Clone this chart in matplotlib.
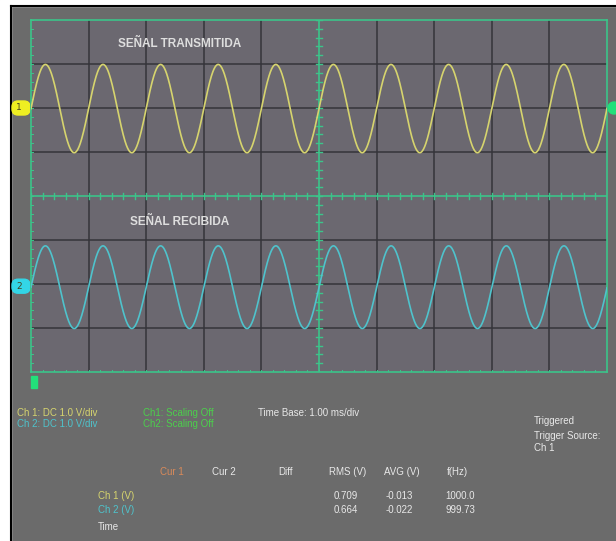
import matplotlib.pyplot as plt
import numpy as np
from matplotlib.patches import FancyBboxPatch, Rectangle, Circle

# scope settings
time_base_ms = 1.00          # ms/div
volts_per_div = [1.0, 1.0]
n_hdiv, n_vdiv = 10, 8
freq_hz = [1000.0, 999.73]
rms_v = [0.709, 0.664]
avg_v = [-0.013, -0.022]
offset_div = [2.0, -2.05]    # trace ground positions on the screen
channel_names = ['SEÑAL TRANSMITIDA', 'SEÑAL RECIBIDA']

W, H = 616, 541
BG = '#6b6b6b'
SCREEN = '#6b6870'
GREEN = '#3cc48a'
GRID = '#35343a'
YEL = '#d6d46e'
CYAN = '#4fc3cc'

fig = plt.figure(figsize=(W / 100, H / 100), dpi=100)
fig.patch.set_facecolor(BG)

# pixel-space overlay for frame, labels and panel text
bg = fig.add_axes([0, 0, 1, 1])
bg.set_xlim(0, W)
bg.set_ylim(H, 0)
bg.axis('off')
bg.add_patch(Rectangle((0, 0), W, 6, color='white'))
bg.add_patch(Rectangle((0, 0), 11, H, color='white'))
bg.plot([11, 11], [6, H], color='black', lw=1.5)
bg.plot([11, W], [6, 6], color='black', lw=1.5)

# screen geometry in pixels
x0, x1, y0, y1 = 31, 607, 20, 372
ax = fig.add_axes([x0 / W, 1 - y1 / H, (x1 - x0) / W, (y1 - y0) / H])
ax.set_xlim(0, n_hdiv)
ax.set_ylim(-n_vdiv / 2, n_vdiv / 2)
ax.set_facecolor(SCREEN)
for s in ax.spines.values():
    s.set_color(GREEN)
    s.set_linewidth(1.2)
ax.set_xticks([])
ax.set_yticks([])

for i in range(1, n_hdiv):
    if i != n_hdiv // 2:
        ax.axvline(i, color=GRID, lw=1.1, zorder=1)
for j in range(-n_vdiv // 2 + 1, n_vdiv // 2):
    if j != 0:
        ax.axhline(j, color=GRID, lw=1.1, zorder=1)

# centre cross with 0.2 div ticks
ax.axvline(n_hdiv / 2, color=GREEN, lw=1.2, zorder=2)
ax.axhline(0, color=GREEN, lw=1.2, zorder=2)
xt = np.arange(0, n_hdiv + 0.01, 0.2)
yt = np.arange(-n_vdiv / 2, n_vdiv / 2 + 0.01, 0.2)
ax.plot(np.repeat(xt, 3), np.tile([-0.06, 0.06, np.nan], len(xt)),
        color=GREEN, lw=1.0, zorder=2)
ax.plot(np.tile([4.95, 5.05, np.nan], len(yt)), np.repeat(yt, 3),
        color=GREEN, lw=1.0, zorder=2)
# border ticks
ax.plot(np.repeat(xt, 3), np.tile([-4, -3.95, np.nan], len(xt)),
        color=GREEN, lw=0.7, zorder=2)
ax.plot(np.tile([0, 0.04, np.nan], len(yt)), np.repeat(yt, 3),
        color=GREEN, lw=0.7, zorder=2)

# traces
t_ms = np.linspace(0, n_hdiv * time_base_ms, 2000)
for ch, col in enumerate([YEL, CYAN]):
    amp = rms_v[ch] * np.sqrt(2)
    v = avg_v[ch] + amp * np.sin(2 * np.pi * freq_hz[ch] * t_ms / 1000.0)
    ax.plot(t_ms / time_base_ms, v / volts_per_div[ch] + offset_div[ch],
            color=col, lw=1.2, zorder=3)

ax.text(2.58, 3.45, channel_names[0], color='#dedede', fontsize=8.5,
        family='Liberation Sans', weight='bold', ha='center', va='center',
        zorder=4)
ax.text(2.58, -0.6, channel_names[1], color='#dedede', fontsize=8.5,
        family='Liberation Sans', weight='bold', ha='center', va='center',
        zorder=4)

# channel ground markers
for ch, col in enumerate(['#eeee22', '#33d6e6']):
    yp = 196 - offset_div[ch] * 44
    bg.add_patch(FancyBboxPatch((12, yp - 7), 18, 14,
                                boxstyle='round,pad=0,rounding_size=6',
                                color=col, zorder=5))
    bg.text(19, yp, str(ch + 1), color='#444422', fontsize=6.5,
            ha='center', va='center', zorder=6)
bg.add_patch(Circle((614, 108), 6, color='#22e07a', zorder=5))
bg.add_patch(Rectangle((31, 376), 6, 12, color='#22e07a', zorder=5))

# measurement panel
fnt = dict(family='Liberation Sans', fontsize=7, va='center', ha='left')
bg.text(17, 413, 'Ch 1: DC 1.0 V/div', color=YEL, **fnt)
bg.text(17, 424, 'Ch 2: DC 1.0 V/div', color=CYAN, **fnt)
bg.text(143, 413, 'Ch1: Scaling Off', color='#4cd04c', **fnt)
bg.text(143, 424, 'Ch2: Scaling Off', color='#4cd04c', **fnt)
bg.text(258, 413, 'Time Base: %.2f ms/div' % time_base_ms, color='#e8e8e8', **fnt)
bg.text(534, 421, 'Triggered', color='#e8e8e8', **fnt)
bg.text(534, 436, 'Trigger Source:', color='#e8e8e8', **fnt)
bg.text(534, 448, 'Ch 1', color='#e8e8e8', **fnt)

bg.text(160, 472, 'Cur 1', color='#d98a5a', **fnt)
for x, s in [(212, 'Cur 2'), (278, 'Diff'), (329, 'RMS (V)'),
             (384, 'AVG (V)'), (447, 'f(Hz)')]:
    bg.text(x, 472, s, color='#e8e8e8', **fnt)

bg.text(98, 496, 'Ch 1 (V)', color=YEL, **fnt)
bg.text(98, 510, 'Ch 2 (V)', color=CYAN, **fnt)
bg.text(98, 527, 'Time', color='#e8e8e8', **fnt)
for row, y in enumerate([496, 510]):
    bg.text(334, y, '%.3f' % rms_v[row], color='#e8e8e8', **fnt)
    bg.text(386, y, '%.3f' % avg_v[row], color='#e8e8e8', **fnt)
bg.text(445, 496, '%.1f' % freq_hz[0], color='#e8e8e8', **fnt)
bg.text(445, 510, '%.2f' % freq_hz[1], color='#e8e8e8', **fnt)

fig.savefig('out.png', dpi=100, facecolor=fig.get_facecolor())
